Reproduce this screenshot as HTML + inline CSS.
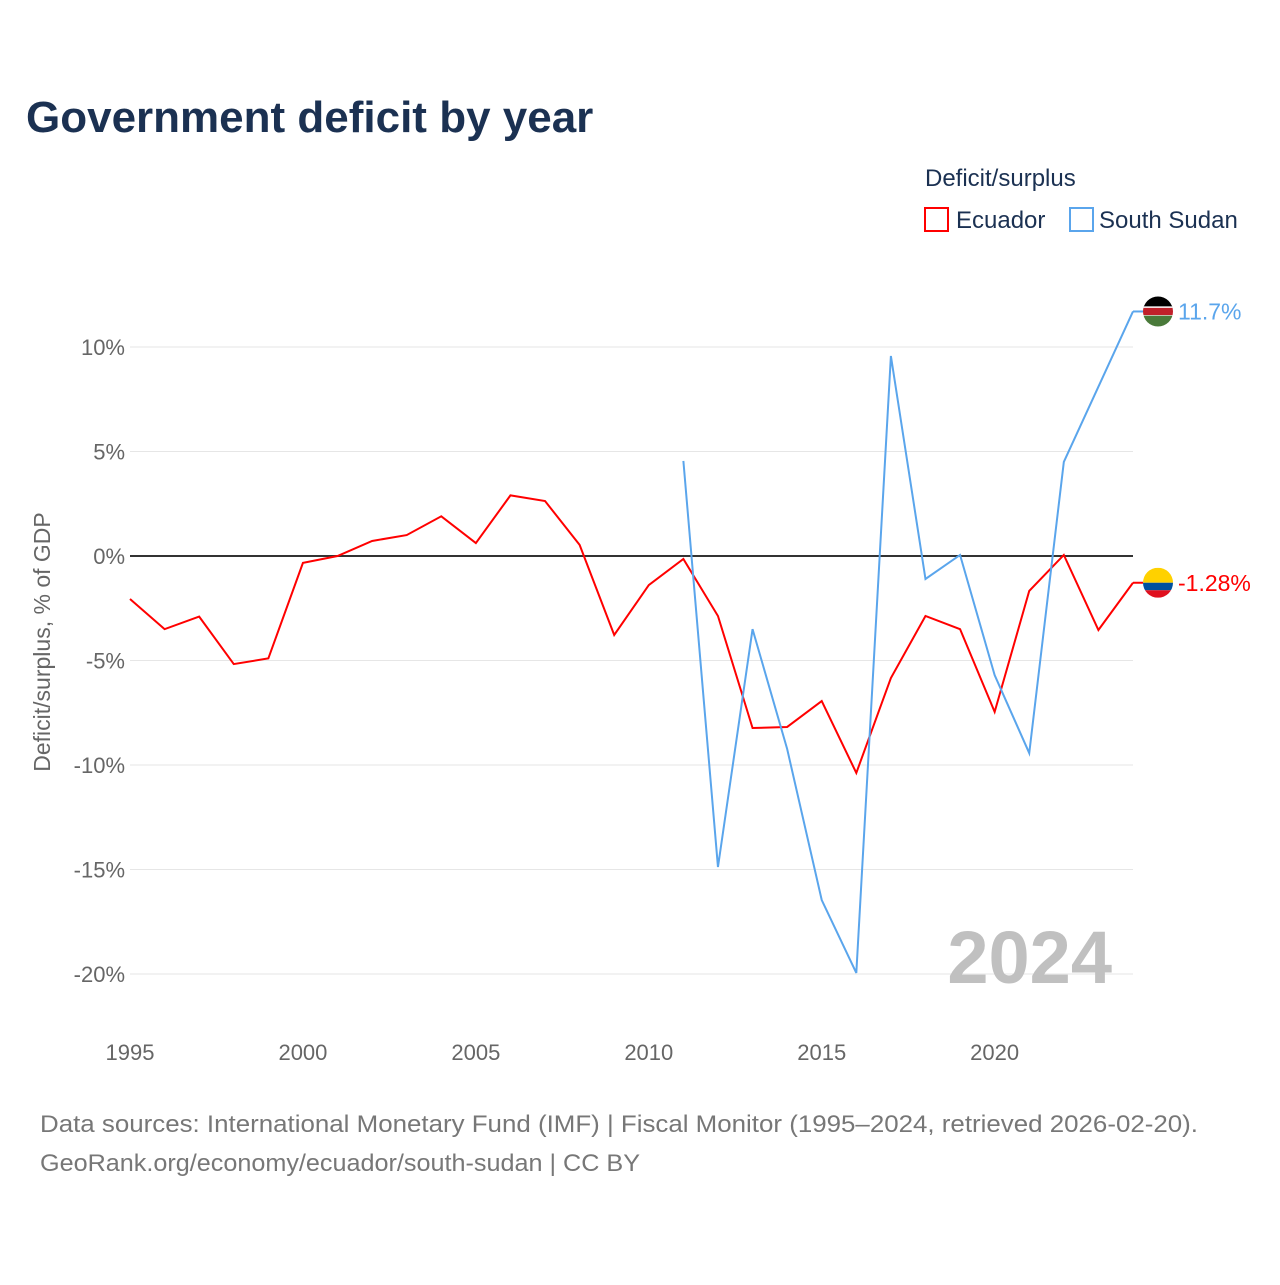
<!DOCTYPE html>
<html><head><meta charset="utf-8">
<style>
body{margin:0;background:#fff;font-family:"Liberation Sans",Lato,sans-serif;}
#wrap{position:relative;width:1280px;height:1280px;}
</style></head>
<body><div id="wrap">
<svg id="chart" width="1280" height="1280">
<text x="26" y="132" font-size="44" font-weight="bold" fill="#1b3152">Government deficit by year</text>
<g>
<text x="925" y="186" font-size="24" fill="#1b3152">Deficit/surplus</text>
<g><rect x="925" y="208" width="23" height="23" fill="none" stroke="#ff0000" stroke-width="2"/><text x="956" y="228" font-size="24" fill="#1b3152">Ecuador</text></g>
<g><rect x="1070" y="208" width="23" height="23" fill="none" stroke="#5aa5ec" stroke-width="2"/><text x="1099" y="228" font-size="24" fill="#1b3152">South Sudan</text></g>
</g>
<g id="grid"></g><g id="axes"></g><g id="series"></g>
<text x="1112" y="983" font-size="74" font-weight="bold" fill="#c0c0c0" text-anchor="end">2024</text>
<text transform="translate(50,642) rotate(-90)" font-size="23" fill="#666" text-anchor="middle">Deficit/surplus, % of GDP</text>
<text x="40" y="1132" font-size="24" fill="#777" textLength="1158" lengthAdjust="spacingAndGlyphs">Data sources: International Monetary Fund (IMF) | Fiscal Monitor (1995–2024, retrieved 2026-02-20).</text>
<text x="40" y="1171" font-size="24" fill="#777" textLength="600" lengthAdjust="spacingAndGlyphs">GeoRank.org/economy/ecuador/south-sudan | CC BY</text>
</svg></div>
<script>
const years=[];for(let y=1995;y<=2024;y++)years.push(y);
const ecuador=[-2.06,-3.5,-2.9,-5.17,-4.9,-0.33,0,0.72,1.0,1.9,0.62,2.9,2.63,0.53,-3.78,-1.39,-0.14,-2.87,-8.23,-8.18,-6.94,-10.38,-5.84,-2.87,-3.5,-7.46,-1.67,0.05,-3.54,-1.28];
const ssYears=[2011,2012,2013,2014,2015,2016,2017,2018,2019,2020,2021,2022,2023,2024];
const southSudan=[4.55,-14.88,-3.5,-9.23,-16.46,-19.95,9.57,-1.1,0.05,-5.7,-9.43,4.5,8.1,11.7];
const yTicks=[10,5,0,-5,-10,-15,-20];
const xTicks=[1995,2000,2005,2010,2015,2020];
const NS="http://www.w3.org/2000/svg";
const X=y=>130+(y-1995)*(1133-130)/29;
const Y=v=>556-v*20.9;
function mk(t,a,p){const e=document.createElementNS(NS,t);for(const k in a)e.setAttribute(k,a[k]);p.appendChild(e);return e;}
const grid=document.getElementById('grid'),axes=document.getElementById('axes'),ser=document.getElementById('series');
yTicks.forEach(v=>{
 const l=mk('line',{x1:130,x2:1133,y1:Y(v),y2:Y(v),stroke:v===0?'#333':'#e6e6e6','stroke-width':v===0?2:1},grid);
 
 
 const t=mk('text',{x:125,y:Y(v)+8,'font-size':22,fill:'#666','text-anchor':'end'},axes);t.textContent=v+'%';
 
 
});
xTicks.forEach(v=>{
 const t=mk('text',{x:X(v),y:1060,'font-size':22,fill:'#666','text-anchor':'middle'},axes);t.textContent=v;
 
 
});
const p1=mk('polyline',{points:years.map((y,i)=>X(y)+','+Y(ecuador[i])).join(' '),fill:'none',stroke:'#ff0000','stroke-width':2},ser);


const p2=mk('polyline',{points:ssYears.map((y,i)=>X(y)+','+Y(southSudan[i])).join(' '),fill:'none',stroke:'#5aa5ec','stroke-width':2},ser);


function endLabel(val,col,name,flag){
 const x=X(2024),y=Y(val);
 mk('line',{x1:x,x2:x+10,y1:y,y2:y,stroke:col,'stroke-width':2},ser);
 const g=mk('g',{},ser);
 
 
 const cx=x+25;
 const cp=mk('clipPath',{id:'c'+name},g);mk('circle',{cx:cx,cy:y,r:15},cp);
 const gg=mk('g',{'clip-path':'url(#c'+name+')'},g);
 flag.forEach(f=>mk('rect',{x:cx-15,y:y-15+f[0]*30,width:30,height:f[1]*30,fill:f[2]},gg));
 const t=mk('text',{x:cx+20,y:y+8,'font-size':23,fill:col},ser);t.textContent=val+'%';
 
 
}
endLabel(southSudan[southSudan.length-1],'#5aa5ec','south-sudan',[[0,0.36,'#000'],[0.33,0.34,'#fff'],[0.38,0.24,'#c0202a'],[0.64,0.36,'#4a7a3a']]);
endLabel(ecuador[ecuador.length-1],'#ff0000','ecuador',[[0,0.5,'#ffd100'],[0.5,0.25,'#0050a0'],[0.75,0.25,'#e0101e']]);
</script></body></html>
